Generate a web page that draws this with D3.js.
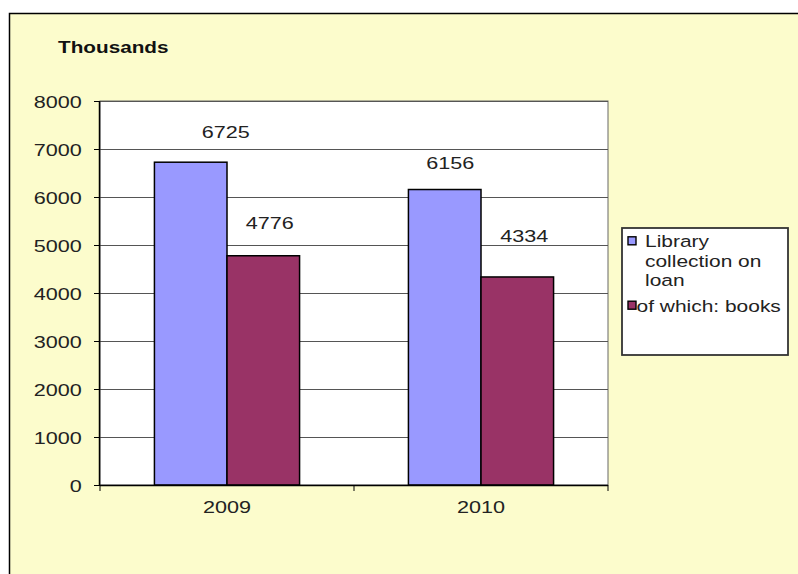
<!DOCTYPE html>
<html><head><meta charset="utf-8">
<script src="https://cdn.jsdelivr.net/npm/d3@7"></script>
<style>body{margin:0;background:#fff}svg{display:block}</style>
</head><body>
<script>
// ---- data ----
const categories = ["2009", "2010"];
const seriesNames = ["Library collection on loan", "of which: books"];
const collectionOnLoan = [6725, 6156];
const booksOnLoan = [4776, 4334];
const yTicks = [0, 1000, 2000, 3000, 4000, 5000, 6000, 7000, 8000];

// ---- style / layout ----
const colors = ["#9999FF", "#993366"];
const series = [collectionOnLoan, booksOnLoan];
const labelNudgeX = [[35, 6.5], [5.5, 7]];      // per category, per series
const labelNudgeY = [[-24.5, -26.8], [-20.5, -35]];
const SX = 1.27; // horizontal text stretch of the original
const W = 798, H = 574;
const font = "Liberation Sans, Arial, sans-serif";
const txtColor = "#222";

const svg = d3.select("body").append("svg").attr("width", W).attr("height", H);

svg.append("rect").attr("x", 9.5).attr("y", 13.5).attr("width", W).attr("height", H)
  .attr("fill", "#FCFCCC").attr("stroke", "#000").attr("stroke-width", 1.5);

const L = 100, R = 608, T = 101, B = 485;
const x0 = d3.scaleBand().domain(categories).range([L, R]).paddingInner(0).paddingOuter(0);
const x1 = d3.scaleBand().domain([0, 1]).range([0, x0.bandwidth()]).paddingInner(0).paddingOuter(0.75);
const y = d3.scaleLinear().domain([0, 8000]).range([B, T]);

svg.append("rect").attr("x", L).attr("y", T).attr("width", R - L).attr("height", B - T)
  .attr("fill", "#fff").attr("stroke", "#666").attr("stroke-width", 1);

svg.append("g").selectAll("line").data(yTicks.filter(d => d > 0)).join("line")
  .attr("x1", L).attr("x2", R).attr("y1", d => y(d) + 0.5).attr("y2", d => y(d) + 0.5)
  .attr("stroke", "#555").attr("stroke-width", 1);

const groups = svg.append("g").selectAll("g").data(categories).join("g")
  .attr("transform", c => `translate(${x0(c)},0)`);
groups.selectAll("rect").data((c, i) => series.map((s, k) => ({k, i, v: s[i]}))).join("rect")
  .attr("x", d => x1(d.k)).attr("width", x1.bandwidth())
  .attr("y", d => y(d.v)).attr("height", d => y(0) - y(d.v))
  .attr("fill", d => colors[d.k]).attr("stroke", "#000").attr("stroke-width", 1.5);
groups.selectAll("text").data((c, i) => series.map((s, k) => ({k, i, v: s[i]}))).join("text")
  .attr("transform", d => `translate(${x1(d.k) + x1.bandwidth() / 2 + labelNudgeX[d.i][d.k]},${y(d.v) + labelNudgeY[d.i][d.k]}) scale(${SX},1)`)
  .attr("text-anchor", "middle").attr("font-family", font).attr("font-size", 17)
  .attr("fill", txtColor).text(d => d.v);

const yAxis = svg.append("g").attr("transform", `translate(${L},0)`)
  .call(d3.axisLeft(y).tickValues(yTicks).tickSize(6).tickPadding(8.4).tickFormat(d3.format("d")));
yAxis.select(".domain").attr("stroke", "#000").attr("stroke-width", 1.5).attr("d", `M-0.5,${T}V${B}`);
yAxis.selectAll(".tick line").attr("stroke", "#000");
yAxis.selectAll("text").attr("font-family", font).attr("font-size", 17).attr("fill", txtColor)
  .attr("transform", `scale(${SX},1)`).attr("dy", "0.38em");

const xAxis = svg.append("g").attr("transform", `translate(0,${B})`)
  .call(d3.axisBottom(x0).tickSize(0).tickPadding(16));
xAxis.select(".domain").attr("stroke", "#000").attr("stroke-width", 1.5).attr("d", `M${L},0.5H${R}`);
xAxis.selectAll("text").attr("font-family", font).attr("font-size", 17).attr("fill", txtColor)
  .attr("transform", `scale(${SX},1)`);
svg.append("g").selectAll("line").data([L, (L + R) / 2, R]).join("line")
  .attr("x1", d => d).attr("x2", d => d).attr("y1", B).attr("y2", B + 6)
  .attr("stroke", "#000").attr("stroke-width", 1);

svg.append("text").attr("transform", `translate(58,53) scale(1.22,1)`).attr("font-family", font)
  .attr("font-size", 17).attr("font-weight", "bold").attr("fill", "#111").text("Thousands");

const lg = svg.append("g").attr("transform", "translate(622,228)");
lg.append("rect").attr("width", 166).attr("height", 127).attr("fill", "#fff")
  .attr("stroke", "#333").attr("stroke-width", 1.8);
const legendLines = [["Library", "collection on", "loan"], ["of which: books"]];
const lineStarts = [19.3, 83.7];
const textStartX = [23, 14.5];
legendLines.forEach((lines, k) => {
  lg.append("rect").attr("x", 6).attr("y", lineStarts[k] - 10.5).attr("width", 8).attr("height", 8)
    .attr("fill", colors[k]).attr("stroke", "#000").attr("stroke-width", 1.4);
  lines.forEach((t, j) => lg.append("text")
    .attr("transform", `translate(${textStartX[k]},${lineStarts[k] + j * 19.3}) scale(${SX},1)`)
    .attr("font-family", font).attr("font-size", 16.5).attr("fill", txtColor).text(t));
});
</script>
</body></html>
